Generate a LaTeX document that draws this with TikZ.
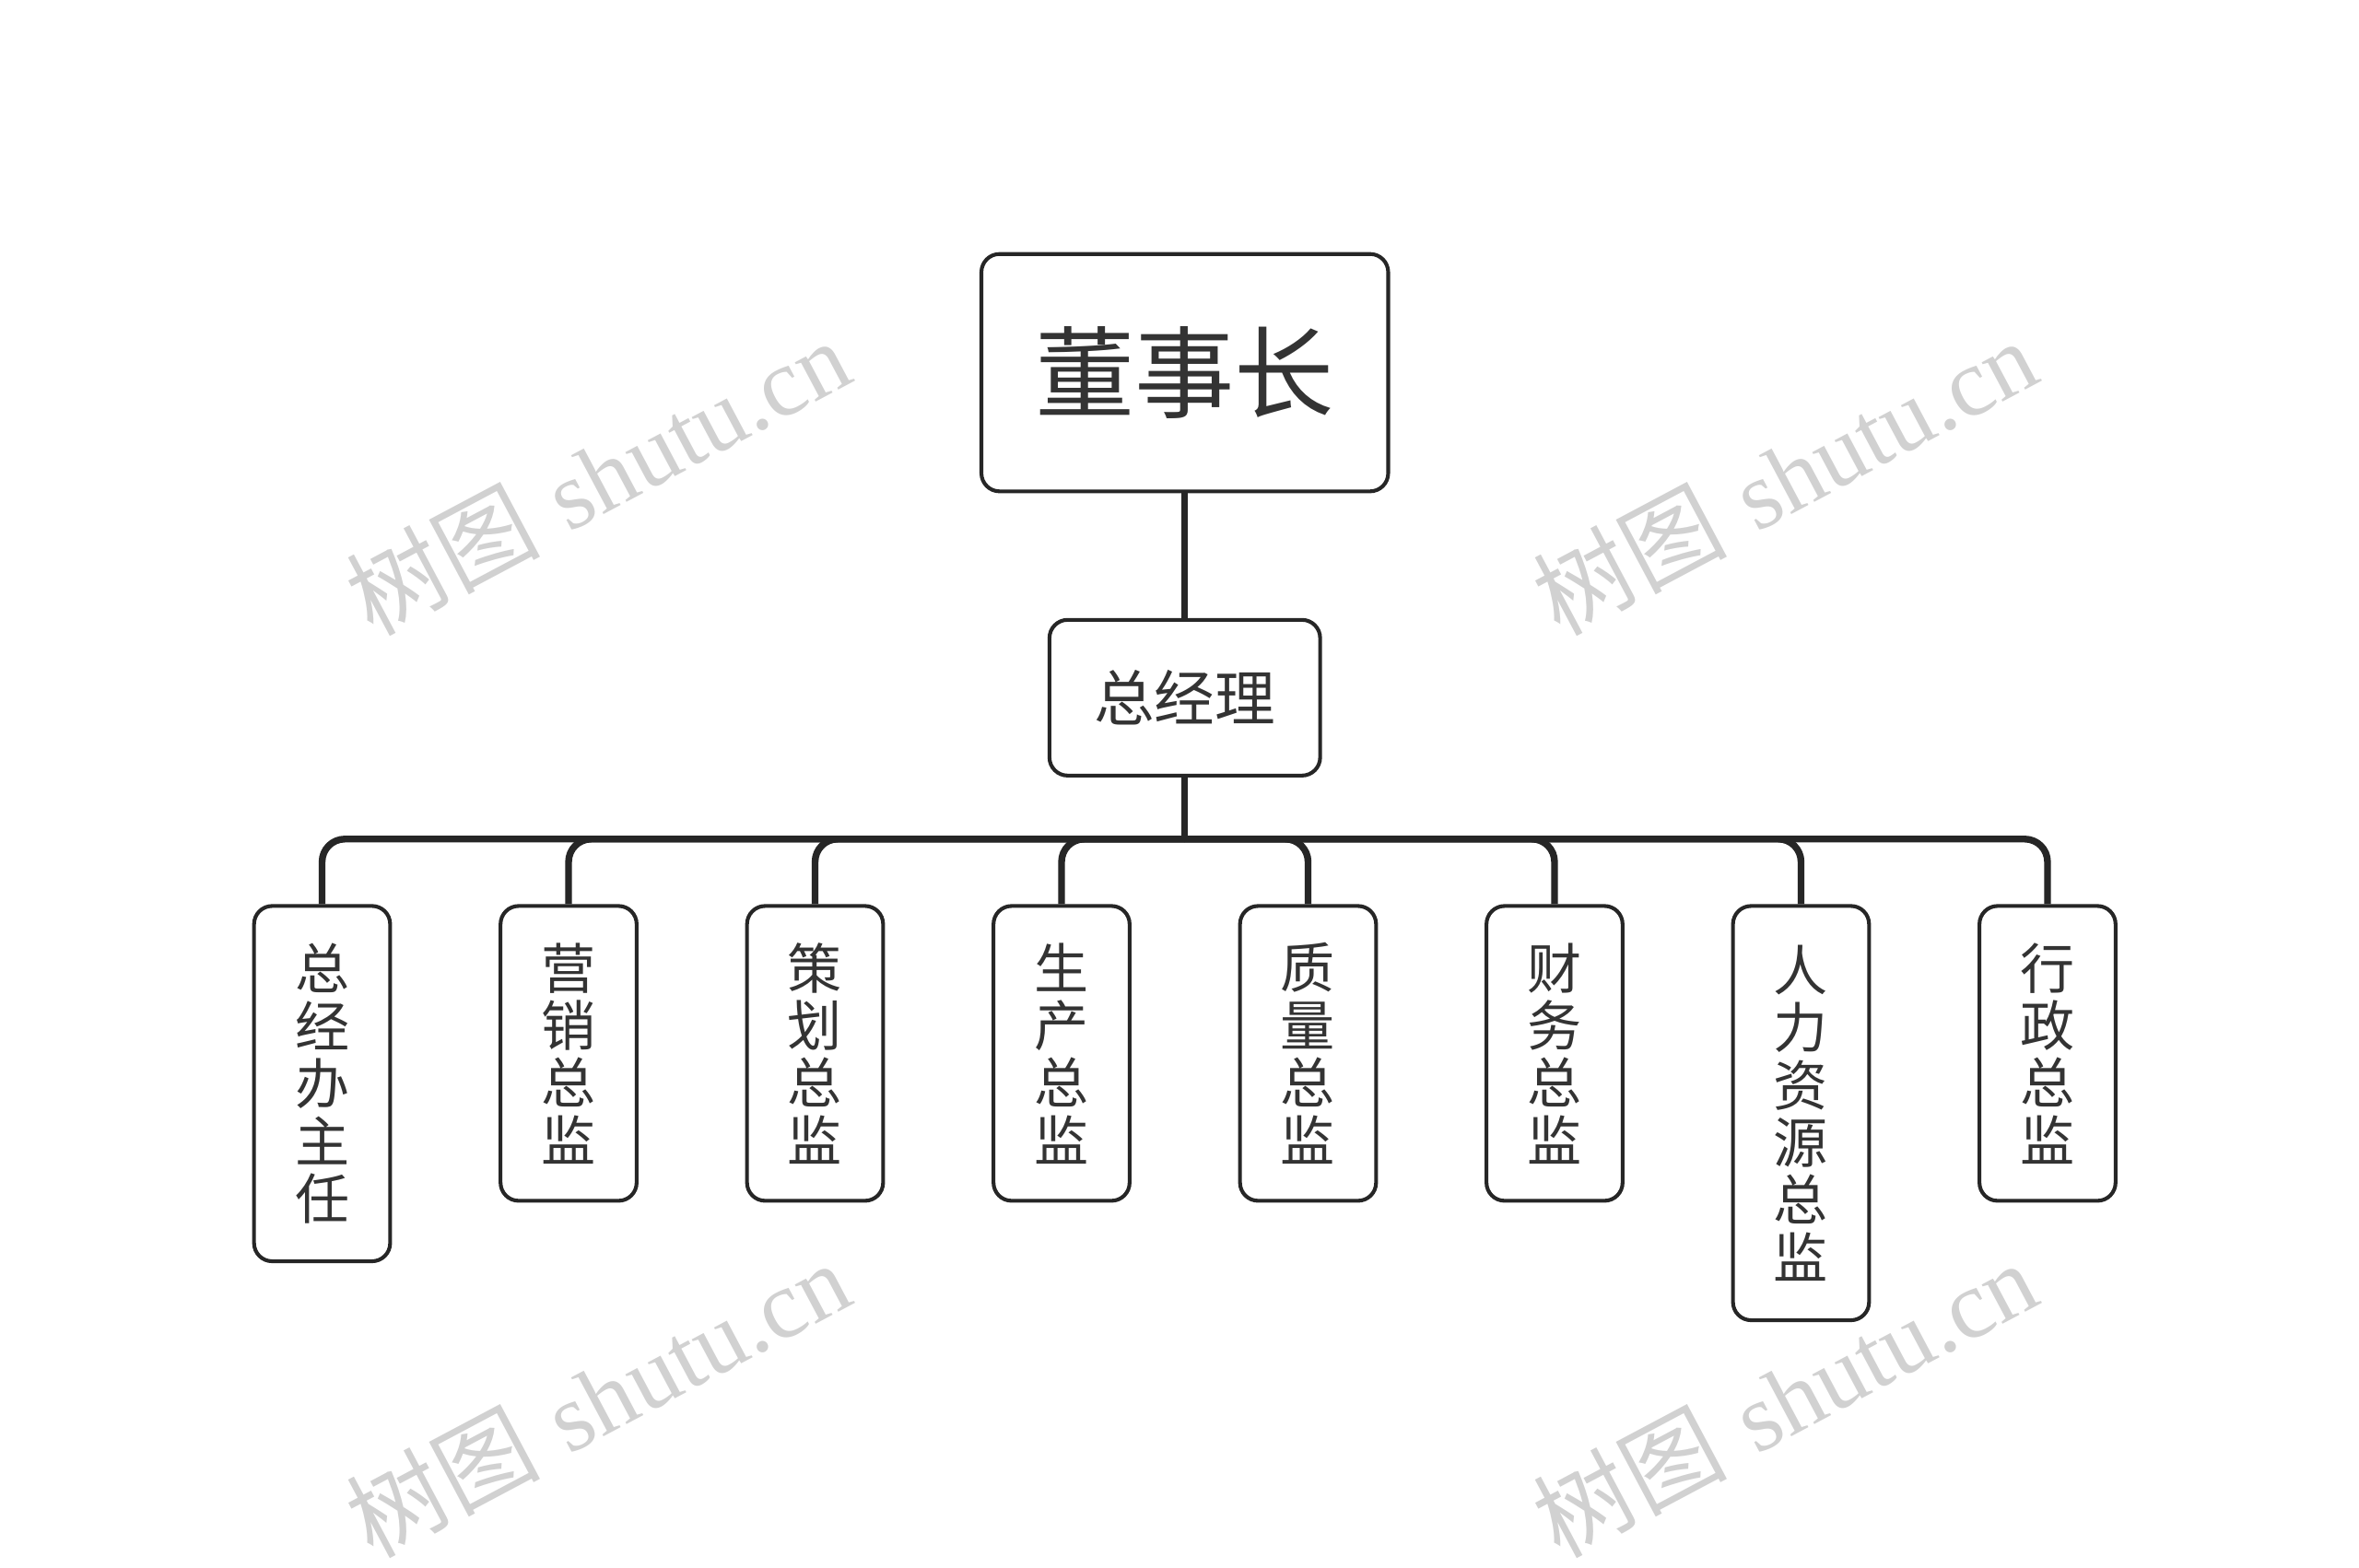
\documentclass[tikz,border=0pt]{standalone}
\usepackage{fontspec}
\newfontfamily\cjk{Noto Sans CJK SC}
\newfontfamily\wmserif{Liberation Serif}
\begin{document}
\begin{tikzpicture}[x=1pt,y=-1pt,
  box/.style={draw=black!85,line width=2.5pt,rounded corners=12pt,fill=white,inner sep=0pt,font=\cjk,text=black!80},
  child/.style={box,minimum width=90pt,anchor=north,align=center,font=\cjk\fontsize{36}{38}\selectfont},
  link/.style={line width=4.5pt,draw=black!85,rounded corners=15pt},
  wm/.style={rotate=28,text=black!18,font=\fontsize{64}{64}\selectfont}]
\useasboundingbox (0,0) rectangle (1560,1037);
\foreach \x/\y [count=\i] in {395/315,1180/315,395/925,1180/925}
  \node[wm] (wm\i) at (\x,\y) {{\cjk 树图} {\wmserif shutu.cn}};
\node[box,minimum width=269pt,minimum height=157pt,font=\cjk\fontsize{66}{66}\selectfont] (ceo) at (783.5,246.5) {董事长};
\node[box,minimum width=179pt,minimum height=103pt,font=\cjk\fontsize{40}{40}\selectfont] (gm) at (783.5,461.5) {总经理};
\coordinate (bus) at (783.5,555);
\draw[link] (ceo.south) -- (gm.north);
\draw[link] (gm.south) -- (bus);
\foreach \x/\t/\h [count=\i] in {213/总\\经\\办\\主\\任/235,376/营\\销\\总\\监/195,539/策\\划\\总\\监/195,702/生\\产\\总\\监/195,865/质\\量\\总\\监/195,1028/财\\务\\总\\监/195,1191/人\\力\\资\\源\\总\\监/274,1354/行\\政\\总\\监/195}
{
  \node[child,minimum height=\h pt] (c\i) at (\x,598) {\t};
  \draw[link] (c\i.north) |- (bus);
}
\end{tikzpicture}
\end{document}
